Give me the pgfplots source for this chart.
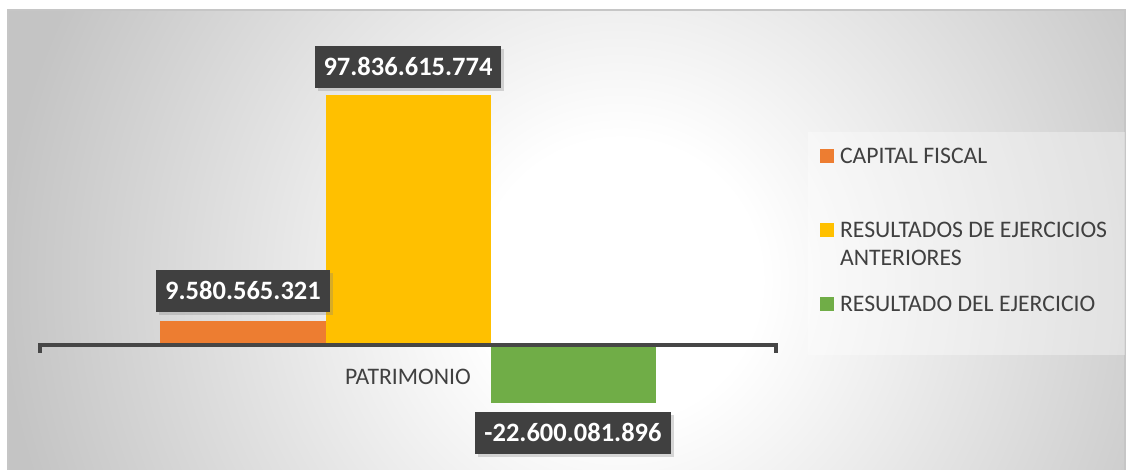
\documentclass[border=0pt]{standalone}
\usepackage{fontspec}
\setmainfont{Carlito}
\usepackage{pgfplots}
\pgfplotsset{compat=1.18}
\usetikzlibrary{shadows}
\definecolor{cOrange}{RGB}{237,125,49}
\definecolor{cYellow}{RGB}{255,192,0}
\definecolor{cGreen}{RGB}{112,173,71}
\definecolor{txt}{RGB}{64,64,64}
\definecolor{lbl}{RGB}{64,64,64}
\definecolor{axl}{RGB}{70,70,70}
\definecolor{bgout}{RGB}{196,196,196}
\pgfdeclareradialshading{chartbg}{\pgfpoint{0pt}{0pt}}{color(0pt)=(white); color(70pt)=(white); color(310pt)=(bgout); color(420pt)=(bgout)}
\pgfplotsset{sqleg/.style={legend image code/.code={\fill[##1] (0pt,0.3pt) rectangle (7pt,7.3pt);}}}
\begin{document}
\begin{tikzpicture}
\path[use as bounding box] (0,0) rectangle (563.5pt,235pt);
\begin{scope}
\clip (4pt,0pt) rectangle (562.5pt,230pt);
\node[inner sep=0pt, outer sep=0pt] at (310pt,95pt) {\pgfuseshading{chartbg}};
\end{scope}
\draw[gray!45, line width=0.6pt] (4pt,-1pt) -- (4pt,230pt) -- (562.5pt,230pt) -- (562.5pt,-1pt);
\fill[white, opacity=0.35] (404pt,57.5pt) rectangle (562.5pt,169pt);
\begin{axis}[
 at={(19pt,15pt)}, anchor=south west,
 scale only axis, width=370pt, height=200pt,
 xmin=-0.5, xmax=0.5, ymin=-37.25e9, ymax=119.6e9,
 axis x line=middle, axis y line=none,
 x axis line style={-, line width=2pt, color=axl},
 xtick={0}, xticklabels={PATRIMONIO}, major tick length=0pt,
 xticklabel style={font=\fontsize{11.85}{14}\selectfont, text=txt, anchor=base, yshift=-19.75pt},
 ytick=\empty,
 ybar=0pt, bar width=82.5pt,
 clip=false, axis on top,
 point meta=explicit symbolic,
 nodes near coords,
 every node near coord/.append style={fill=lbl, text=white, font=\bfseries\fontsize{13.25}{15}\selectfont, inner xsep=4.5pt, inner ysep=6.2pt, text height=8.6pt, text depth=0pt, drop shadow={opacity=0.3, shadow xshift=1.5pt, shadow yshift=-1.5pt}},
 legend cell align=left,
 legend style={draw=none, fill=none, at={(axis description cs:1.0568,0.731)}, anchor=north west, inner sep=0pt, outer sep=0pt, row sep=0pt, column sep=3pt, cells={anchor=base west}, nodes={inner sep=0pt, text height=8pt, text depth=29pt, text=txt, font=\fontsize{11.85}{14}\selectfont}},
 every axis plot post/.append style={sqleg},
]
\addplot[fill=cOrange, draw=none, every node near coord/.append style={anchor=south, yshift=4pt}] coordinates {(0,9580565321) [9.580.565.321]};
\addlegendentry{\parbox[t]{150pt}{CAPITAL FISCAL}}
\addplot[fill=cYellow, draw=none, every node near coord/.append style={anchor=south, yshift=3.5pt}] coordinates {(0,97836615774) [97.836.615.774]};
\addlegendentry{\parbox[t]{150pt}{RESULTADOS DE EJERCICIOS\\ANTERIORES}}
\addplot[fill=cGreen, draw=none, every node near coord/.append style={anchor=north, yshift=-4.5pt}] coordinates {(0,-22600081896) [-22.600.081.896]};
\addlegendentry{\parbox[t]{150pt}{RESULTADO DEL EJERCICIO}}
\draw[axl, line width=2pt] ([xshift=1pt]axis cs:-0.5,0) -- ([xshift=1pt,yshift=-4pt]axis cs:-0.5,0);
\draw[axl, line width=2pt] ([xshift=-1pt]axis cs:0.5,0) -- ([xshift=-1pt,yshift=-4pt]axis cs:0.5,0);
\end{axis}
\end{tikzpicture}
\end{document}
